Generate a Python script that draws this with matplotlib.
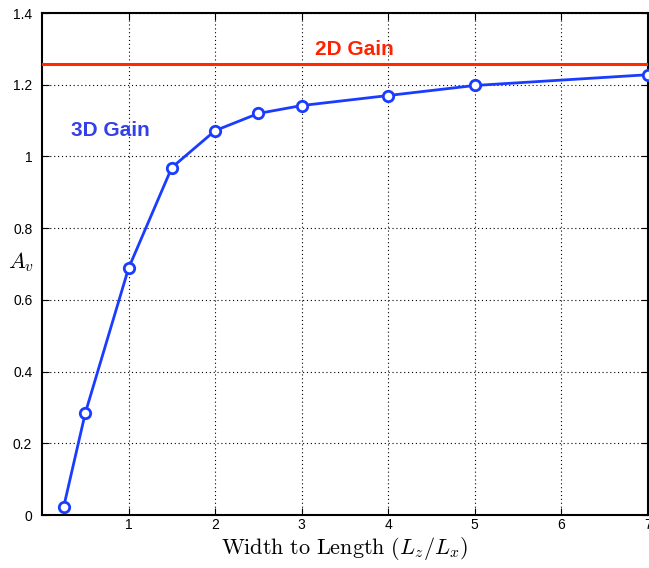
import matplotlib
matplotlib.use("Agg")
import matplotlib.pyplot as plt

ratio = [0.25, 0.5, 1, 1.5, 2, 2.5, 3, 4, 5, 7]
gain3d = [0.022, 0.284, 0.688, 0.969, 1.072, 1.12, 1.142, 1.17, 1.198, 1.228]
gain2d = 1.259
xticks = [1, 2, 3, 4, 5, 6, 7]
yticks = [0, 0.2, 0.4, 0.6, 0.8, 1.0, 1.2, 1.4]
ytick_labels = ["0", "0.2", "0.4", "0.6", "0.8", "1", "1.2", "1.4"]

plt.rcParams['mathtext.fontset'] = 'cm'
fig = plt.figure(figsize=(6.49, 5.68), dpi=100)
ax = fig.add_axes([0.0647, 0.0933, 0.9333, 0.8837])

ax.axhline(gain2d, color='#ff2a00', lw=2.2, zorder=3)
ax.plot(ratio, gain3d, '-o', color='#1a3cff', lw=2, ms=7.5, mfc='white',
        mec='#1a3cff', mew=2, zorder=4, clip_on=False)

ax.set_xlim(0, 7)
ax.set_ylim(0, 1.4)
ax.set_xticks(xticks)
ax.set_yticks(yticks)
ax.set_yticklabels(ytick_labels)
ax.tick_params(direction='in', length=5, width=0.8, labelsize=10,
               top=True, right=True)
ax.tick_params(axis='y', pad=7)
ax.tick_params(axis='x', pad=2)
for lab in ax.get_xticklabels() + ax.get_yticklabels():
    lab.set_family('Liberation Sans')
ax.grid(True, color='black', linestyle=(0, (1, 2.5)), linewidth=0.8)
for s in ax.spines.values():
    s.set_linewidth(1.5)

ax.text(3.61, 1.298, "2D Gain", color='#ff2200', fontsize=15, fontweight='bold',
        family='Liberation Sans', ha='center', va='center')
ax.text(0.785, 1.072, "3D Gain", color='#3340e8', fontsize=15, fontweight='bold',
        family='Liberation Sans', ha='center', va='center')

fig.text(345 / 649, 1 - 549 / 568, r"$\mathrm{Width\ to\ Length}\ (L_z/L_x)$",
         fontsize=16, ha='center', va='center')
fig.text(21 / 649, 1 - 262 / 568, r"$A_v$", fontsize=16, ha='center', va='center')

fig.savefig("out.png", dpi=100)
